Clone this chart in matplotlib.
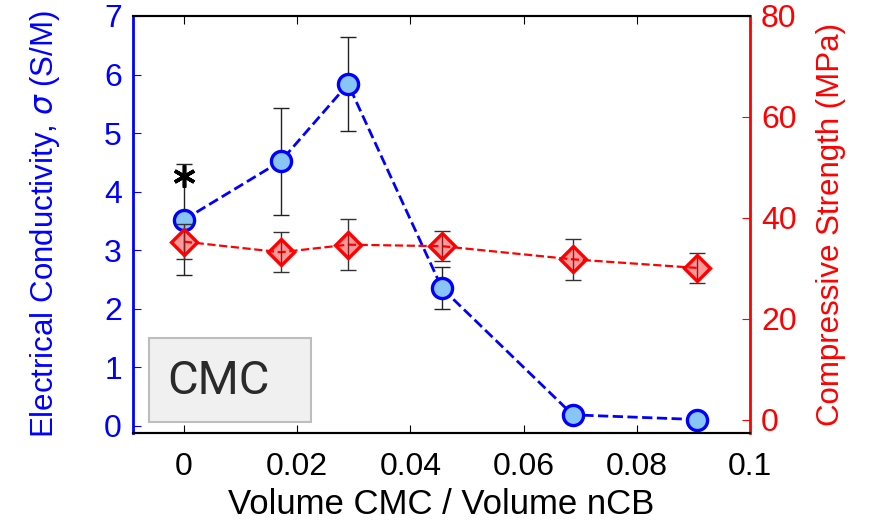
import numpy as np
import matplotlib
matplotlib.use("Agg")
import matplotlib.pyplot as plt
from matplotlib.patches import Rectangle

plt.rcParams['font.family'] = ['Liberation Sans', 'DejaVu Sans']
font = 23

# data
x_blue = [0.0, 0.0171, 0.029, 0.0456, 0.0687, 0.0906]
sigma = [3.52, 4.52, 5.84, 2.35, 0.19, 0.11]
sigma_err = [0.95, 0.91, 0.80, 0.36, 0.05, 0.05]

x_red = [0.0, 0.0171, 0.029, 0.0456, 0.0687, 0.0906]
strength = [35.3, 33.2, 34.7, 34.4, 31.8, 30.1]
strength_err = [3.5, 4.0, 5.1, 3.0, 4.0, 3.0]

x_star = [0.0]
y_star = [4.27]

xticks = [0, 0.02, 0.04, 0.06, 0.08, 0.1]
xticklabels = ['0', '0.02', '0.04', '0.06', '0.08', '0.1']

fig = plt.figure(figsize=(8.71, 5.24), dpi=100)
ax = fig.add_axes([0.1527, 0.1737, 0.7083, 0.7958])
ax2 = ax.twinx()

# left axis: conductivity
ax.plot(x_blue, sigma, '--', color='#0000ff', lw=2.0, zorder=2)
ax.errorbar(x_blue, sigma, yerr=sigma_err, fmt='none', ecolor='#222222',
            elinewidth=1.0, capsize=6, capthick=1.0, zorder=3)
ax.plot(x_blue, sigma, 'o', ms=14.5, mfc='#88c4f4', mec='#0000ff', mew=2.4,
        ls='none', zorder=4)
ax.plot(x_star, y_star, marker=(6, 2, 0), ms=16, color='black', mew=2.6,
        ls='none', zorder=5)

# right axis: compressive strength
ax2.plot(x_red, strength, '--', color='#ff0000', lw=1.6, zorder=2)
ax2.errorbar(x_red, strength, yerr=strength_err, fmt='none', ecolor='#333333',
             elinewidth=1.0, capsize=6, capthick=1.0, zorder=3)
ax2.plot(x_red, strength, 'D', ms=13, mfc=(1, 0, 0, 0.4), mec='#ff0000',
         mew=2.4, ls='none', zorder=4)

ax.set_xlim(-0.009, 0.1)
ax.set_ylim(-0.12, 7)
ax2.set_ylim(-2.6, 80)

ax.set_xticks(xticks)
ax.set_xticklabels(xticklabels)
ax.set_yticks(range(0, 8))
ax2.set_yticks([0, 20, 40, 60, 80])

ax.tick_params(axis='x', direction='in', top=True, labelsize=font, length=6,
               color='black', labelcolor='black', pad=14)
ax.tick_params(axis='y', direction='in', labelsize=font, length=6,
               color='#0000ff', labelcolor='#0000ff', pad=8)
ax2.tick_params(axis='y', direction='in', labelsize=font, length=6,
                color='#ff0000', labelcolor='#ff0000', pad=8)

ax.spines['left'].set_color('#0000ff')
ax.spines['left'].set_linewidth(2)
ax2.spines['left'].set_visible(False)
ax2.spines['right'].set_color('#ff0000')
ax2.spines['right'].set_linewidth(2)
ax.spines['right'].set_visible(False)
for s in ['top', 'bottom']:
    ax.spines[s].set_linewidth(1.5)
    ax2.spines[s].set_linewidth(1.5)

ax.set_xlabel('Volume CMC / Volume nCB', fontsize=25, labelpad=4)
ax.set_ylabel(r'Electrical Conductivity, $\sigma$ (S/M)', fontsize=22.5,
              color='#0000ff', labelpad=30)
ax2.set_ylabel('Compressive Strength (MPa)', fontsize=22.5, color='#ff0000',
               labelpad=14)

# label box
ax.add_patch(Rectangle((0.026, 0.026), 0.2626, 0.2014, transform=ax.transAxes,
                       fc='#f0f0f0', ec='#bdbdbd', lw=1.5, zorder=6))
ax.text(0.138, 0.125, 'CMC', transform=ax.transAxes, fontsize=34,
        family='Roboto', color='#2a2a2a', va='center', ha='center', zorder=7)

plt.savefig('out.png', dpi=100)
